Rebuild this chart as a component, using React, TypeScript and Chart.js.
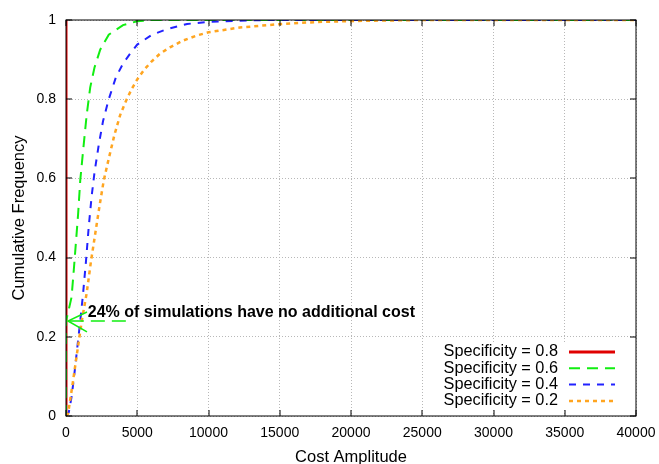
import React, { useEffect, useRef } from "react";
import { Chart, registerables } from "chart.js";

Chart.register(...registerables);

// ---- Data ----
const X_TICKS = [0, 5000, 10000, 15000, 20000, 25000, 30000, 35000, 40000];
const Y_TICKS = [0, 0.2, 0.4, 0.6, 0.8, 1];
const Y_TICK_LABELS = ["0", "0.2", "0.4", "0.6", "0.8", "1"];

const SERIES_LABELS = [
  "Specificity = 0.8",
  "Specificity = 0.6",
  "Specificity = 0.4",
  "Specificity = 0.2",
];

const RED_COST = [0, 0];
const RED_FREQ = [0, 1];

const GREEN_COST = [0, 0, 150, 390, 550, 700, 850, 1000, 1200, 1450, 1700, 2000, 2400, 3000, 4000, 5000, 6000, 40000];
const GREEN_FREQ = [0, 0.24, 0.262, 0.3, 0.37, 0.44, 0.51, 0.595, 0.67, 0.76, 0.83, 0.88, 0.925, 0.963, 0.987, 0.997, 1.0, 1.0];

const BLUE_COST = [0, 200, 400, 600, 800, 1000, 1200, 1400, 1600, 1800, 2000, 2300, 2600, 3000, 3500, 4000, 4500, 5000, 6000, 7000, 8500, 10000, 12000, 14000, 40000];
const BLUE_FREQ = [0, 0.01, 0.05, 0.11, 0.175, 0.24, 0.31, 0.39, 0.48, 0.555, 0.615, 0.685, 0.745, 0.8, 0.855, 0.89, 0.915, 0.938, 0.962, 0.976, 0.99, 0.995, 0.998, 1.0, 1.0];

const ORANGE_COST = [0, 150, 440, 780, 1130, 1450, 1750, 2050, 2350, 2650, 3000, 3400, 3800, 4200, 4600, 5000, 5500, 6000, 6600, 7300, 8200, 9200, 10000, 12200, 14800, 17600, 21000, 25000, 40000];
const ORANGE_FREQ = [0, 0.007, 0.075, 0.16, 0.245, 0.31, 0.39, 0.46, 0.53, 0.595, 0.65, 0.71, 0.76, 0.795, 0.825, 0.85, 0.875, 0.895, 0.915, 0.931, 0.948, 0.961, 0.969, 0.981, 0.989, 0.995, 0.998, 1.0, 1.0];

const ANNOTATION_TEXT = "24% of simulations have no additional cost";
const ANNOTATION_X = 1530;
const ANNOTATION_Y = 0.26;
const ARROW_Y = 0.24;
const ARROW_TAIL_X = 4200;
const ARROW_HEAD_X = 0;

const X_TITLE = "Cost Amplitude";
const Y_TITLE = "Cumulative Frequency";

// ---- Styles ----
const FONT = "'Liberation Sans', Arial, Helvetica, sans-serif";
const COLORS = ["#e00000", "#11ee11", "#2222ff", "#ffa520"];
const DASHES: number[][] = [[], [11, 7], [7, 7], [4, 4]];
const WIDTHS = [3, 2, 2, 2.5];

const zip = (xs: number[], ys: number[]) => xs.map((x, i) => ({ x, y: ys[i] }));

const framePlugin = {
  id: "gnuFrame",
  beforeDatasetsDraw(chart: any) {
    const { ctx, chartArea: a } = chart;
    ctx.save();
    ctx.fillStyle = "#ffffff";
    ctx.fillRect(a.right - 200, a.bottom - 74, 199, 67);
    ctx.restore();
  },
  afterDatasetsDraw(chart: any) {
    const { ctx, chartArea: a, scales } = chart;
    const xs = scales.x;
    const ys = scales.y;
    ctx.save();
    // border
    ctx.strokeStyle = "#000";
    ctx.lineWidth = 1;
    ctx.setLineDash([]);
    ctx.strokeRect(a.left, a.top, a.right - a.left, a.bottom - a.top);
    // inward ticks on all sides
    const T = 6;
    ctx.beginPath();
    for (const v of X_TICKS) {
      const px = Math.round(xs.getPixelForValue(v));
      ctx.moveTo(px, a.bottom);
      ctx.lineTo(px, a.bottom - T);
      ctx.moveTo(px, a.top);
      ctx.lineTo(px, a.top + T);
    }
    for (const v of Y_TICKS) {
      const py = Math.round(ys.getPixelForValue(v));
      ctx.moveTo(a.left, py);
      ctx.lineTo(a.left + T, py);
      ctx.moveTo(a.right, py);
      ctx.lineTo(a.right - T, py);
    }
    ctx.stroke();

    // legend
    ctx.font = `16.3px ${FONT}`;
    ctx.textAlign = "right";
    ctx.textBaseline = "middle";
    chart.data.datasets.forEach((ds: any, i: number) => {
      const ry = a.bottom - 64 + i * 16.3;
      ctx.fillStyle = "#000";
      ctx.fillText(ds.label, a.right - 78, ry);
      ctx.strokeStyle = COLORS[i];
      ctx.lineWidth = WIDTHS[i];
      ctx.setLineDash(DASHES[i]);
      ctx.beginPath();
      ctx.moveTo(a.right - 67, ry);
      ctx.lineTo(a.right - 21, ry);
      ctx.stroke();
    });

    // annotation
    ctx.setLineDash([]);
    ctx.font = `bold 16px ${FONT}`;
    ctx.textAlign = "left";
    ctx.textBaseline = "middle";
    ctx.fillStyle = "#000";
    ctx.fillText(ANNOTATION_TEXT, xs.getPixelForValue(ANNOTATION_X), ys.getPixelForValue(ANNOTATION_Y));

    const hx = xs.getPixelForValue(ARROW_HEAD_X) + 2;
    const tx = xs.getPixelForValue(ARROW_TAIL_X);
    const ay = ys.getPixelForValue(ARROW_Y);
    ctx.strokeStyle = COLORS[1];
    ctx.lineWidth = 1.5;
    ctx.setLineDash([14, 7]);
    ctx.beginPath();
    ctx.moveTo(tx, ay);
    ctx.lineTo(hx, ay);
    ctx.stroke();
    ctx.setLineDash([]);
    ctx.beginPath();
    ctx.moveTo(hx + 19, ay - 9);
    ctx.lineTo(hx, ay);
    ctx.lineTo(hx + 19, ay + 11);
    ctx.stroke();
    ctx.restore();
  },
};

export default function App() {
  const ref = useRef<HTMLCanvasElement | null>(null);

  useEffect(() => {
    if (!ref.current) return;
    const series = [
      zip(RED_COST, RED_FREQ),
      zip(GREEN_COST, GREEN_FREQ),
      zip(BLUE_COST, BLUE_FREQ),
      zip(ORANGE_COST, ORANGE_FREQ),
    ];
    const chart = new Chart(ref.current, {
      type: "line",
      data: {
        datasets: series.map((d, i) => ({
          label: SERIES_LABELS[i],
          data: d,
          borderColor: COLORS[i],
          backgroundColor: COLORS[i],
          borderWidth: WIDTHS[i],
          borderDash: DASHES[i],
          pointRadius: 0,
          tension: 0,
          fill: false,
          order: 3 - i,
        })),
      },
      options: {
        animation: false,
        responsive: false,
        devicePixelRatio: 1,
        layout: { padding: { top: 20, right: 23, left: 0, bottom: 0 } },
        plugins: {
          legend: { display: false },
          tooltip: { enabled: false },
        },
        scales: {
          x: {
            type: "linear",
            min: 0,
            max: 40000,
            afterFit: (s: any) => {
              s.height = 54;
              s.paddingLeft = 0;
              s.paddingRight = 0;
            },
            ticks: {
              stepSize: 5000,
              maxRotation: 0,
              autoSkip: false,
              padding: 9,
              color: "#000",
              font: { family: FONT, size: 14 },
              callback: (v: any) => (X_TICKS.includes(Number(v)) ? String(v) : ""),
            },
            grid: { color: "#b8b8b8", lineWidth: 1, drawTicks: false },
            border: { display: false, dash: [1, 2] },
            title: {
              display: true,
              text: X_TITLE,
              color: "#000",
              font: { family: FONT, size: 16.5 },
              padding: { top: 0, bottom: 3 },
            },
          },
          y: {
            type: "linear",
            min: 0,
            max: 1,
            afterFit: (s: any) => {
              s.width = 66;
              s.paddingTop = 0;
              s.paddingBottom = 0;
            },
            ticks: {
              stepSize: 0.2,
              padding: 10,
              color: "#000",
              font: { family: FONT, size: 14 },
              callback: (v: any) => {
                const idx = Y_TICKS.findIndex((t) => Math.abs(t - Number(v)) < 1e-9);
                return idx >= 0 ? Y_TICK_LABELS[idx] : "";
              },
            },
            grid: { color: "#b8b8b8", lineWidth: 1, drawTicks: false },
            border: { display: false, dash: [1, 2] },
            title: {
              display: true,
              text: Y_TITLE,
              color: "#000",
              font: { family: FONT, size: 16.5 },
              padding: { top: 10, bottom: 0 },
            },
          },
        },
      },
      plugins: [framePlugin],
    });
    return () => chart.destroy();
  }, []);

  return (
    <div
      style={{
        position: "fixed",
        left: 0,
        top: 0,
        width: 659,
        height: 464,
        overflow: "hidden",
        background: "#fff",
      }}
    >
      <canvas ref={ref} width={659} height={470} style={{ display: "block" }} />
    </div>
  );
}
